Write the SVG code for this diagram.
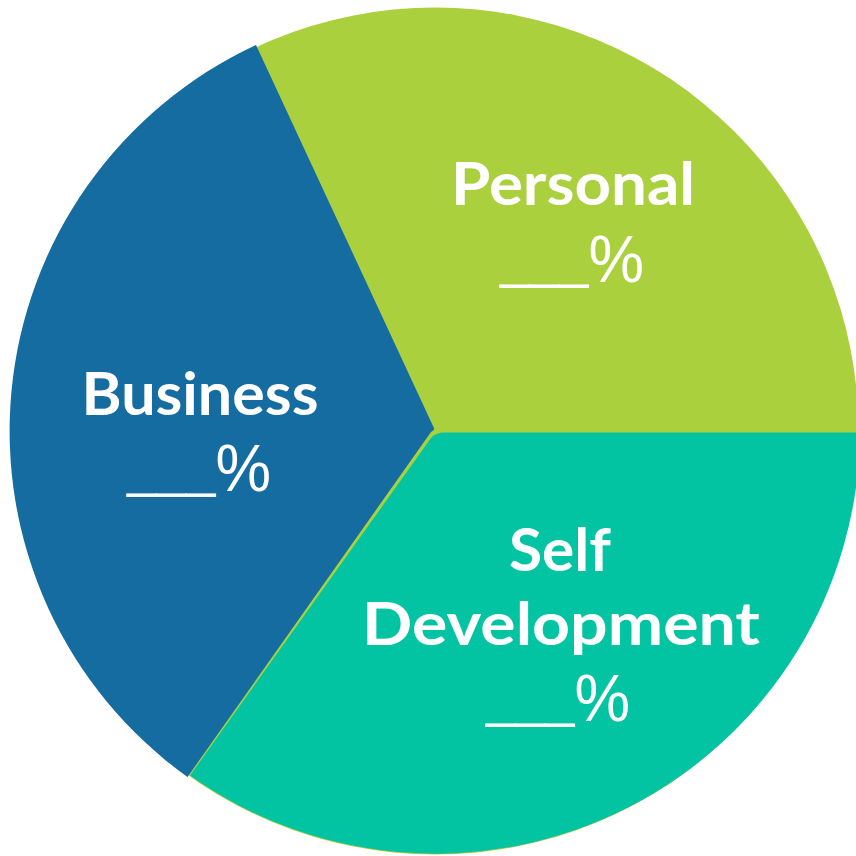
<svg xmlns="http://www.w3.org/2000/svg" width="856" height="856" viewBox="0 0 856 856">
<style>
.lbl{font-family:Lato,"Open Sans","Liberation Sans",sans-serif;font-weight:700;font-size:60px;fill:#ffffff;text-anchor:middle}
.pct{font-family:"Liberation Sans",Arial,sans-serif;font-weight:400;font-size:66px;fill:#ffffff;text-anchor:middle}
.us{font-size:56px}
</style>
<rect width="856" height="856" fill="#ffffff"/>
<g id="personal">
<circle cx="435" cy="431" r="423.5" fill="#AAD03E"/>
<text class="lbl" x="573" y="205" textLength="244" lengthAdjust="spacingAndGlyphs">Personal</text>
<text class="pct" x="572" y="282" textLength="144" lengthAdjust="spacingAndGlyphs"><tspan class="us" dy="-5">___</tspan><tspan dy="5">%</tspan></text>
</g>
<g id="business">
<path d="M433,426 L256,45 A425.5,425.5 0 0 0 187.5,777 L431,432 Q436,430 433,426 Z" fill="#156CA0"/>
<text class="lbl" x="200" y="415" textLength="237" lengthAdjust="spacingAndGlyphs">Business</text>
<text class="pct" x="199" y="491" textLength="144" lengthAdjust="spacingAndGlyphs"><tspan class="us" dy="-5">___</tspan><tspan dy="5">%</tspan></text>
</g>
<g id="self-development">
<path d="M444,432.5 L860,432.5 A424.5,424.5 0 0 1 190,775.5 L431,438 Q436,432.5 444,432.5 Z" fill="#03C4A2"/>
<text class="lbl" x="560" y="571" textLength="102" lengthAdjust="spacingAndGlyphs">Self</text>
<text class="lbl" x="561" y="645" textLength="398" lengthAdjust="spacingAndGlyphs">Development</text>
<text class="pct" x="558" y="721" textLength="144" lengthAdjust="spacingAndGlyphs"><tspan class="us" dy="-5">___</tspan><tspan dy="5">%</tspan></text>
</g>
<g id="connectors"/>
</svg>
